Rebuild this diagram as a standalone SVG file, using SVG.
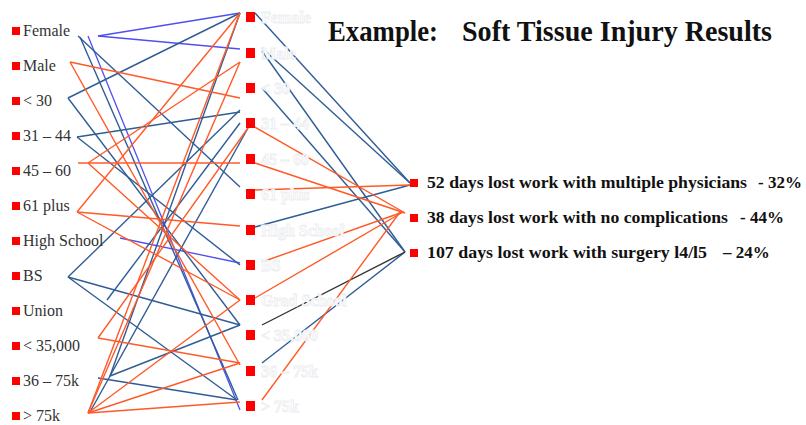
<svg xmlns="http://www.w3.org/2000/svg" width="806" height="425" viewBox="0 0 806 425">
<style>
.lbl{font-family:"Liberation Serif","Times New Roman",serif;font-size:16px;fill:#333}
.ml{font-family:"Liberation Serif","Times New Roman",serif;font-size:16px;font-weight:bold;fill:#fdfdfd;stroke:#eceef1;stroke-width:0.8}
.res{font-family:"Liberation Serif","Times New Roman",serif;font-size:17px;font-weight:bold;fill:#111}
.ttl{font-family:"Liberation Serif","Times New Roman",serif;font-size:30px;font-weight:bold;fill:#111}
.mk{fill:#ff0000}
.o{stroke:#ff5a28;stroke-width:1.4;fill:none}
.b{stroke:#2f5d96;stroke-width:1.4;fill:none}
.p{stroke:#5050f0;stroke-width:1.3;fill:none}
.k{stroke:#333;stroke-width:1.4;fill:none}
</style>
<rect width="806" height="425" fill="#fff"/>
<g id="title">
<text class="ttl" x="328" y="41" textLength="110" lengthAdjust="spacingAndGlyphs">Example:</text>
<text class="ttl" x="462" y="41" textLength="310" lengthAdjust="spacingAndGlyphs">Soft Tissue Injury Results</text>
</g>
<g id="connectors">
<line class="p" x1="98" y1="36" x2="240" y2="13"/>
<line class="p" x1="98" y1="36" x2="240" y2="49"/>
<line class="p" x1="88" y1="36" x2="240" y2="410"/>
<line class="p" x1="120" y1="238" x2="240" y2="263"/>
<line class="b" x1="78" y1="36" x2="240" y2="187"/>
<line class="b" x1="80" y1="37" x2="238" y2="400"/>
<line class="b" x1="68" y1="98" x2="240" y2="13"/>
<line class="b" x1="68" y1="98" x2="240" y2="325"/>
<line class="b" x1="77" y1="137" x2="240" y2="112"/>
<line class="b" x1="77" y1="137" x2="240" y2="265"/>
<line class="b" x1="68" y1="277" x2="240" y2="110"/>
<line class="b" x1="68" y1="277" x2="240" y2="325"/>
<line class="b" x1="68" y1="277" x2="237" y2="400"/>
<line class="b" x1="107" y1="300" x2="240" y2="123"/>
<line class="b" x1="110" y1="376" x2="240" y2="325"/>
<line class="b" x1="98" y1="378" x2="237" y2="400"/>
<line class="b" x1="110" y1="376" x2="240" y2="13"/>
<line class="b" x1="90" y1="412" x2="248" y2="128"/>
<line class="o" x1="70" y1="62" x2="240" y2="98"/>
<line class="o" x1="70" y1="62" x2="240" y2="365"/>
<line class="o" x1="78" y1="163" x2="240" y2="163"/>
<line class="o" x1="88" y1="163" x2="240" y2="62"/>
<line class="o" x1="88" y1="163" x2="240" y2="300"/>
<line class="o" x1="77" y1="212" x2="240" y2="13"/>
<line class="o" x1="77" y1="212" x2="240" y2="226"/>
<line class="o" x1="77" y1="212" x2="240" y2="300"/>
<line class="o" x1="98" y1="338" x2="240" y2="363"/>
<line class="o" x1="98" y1="338" x2="248" y2="128"/>
<line class="o" x1="88" y1="413" x2="240" y2="13"/>
<line class="o" x1="88" y1="413" x2="240" y2="62"/>
<line class="o" x1="88" y1="413" x2="240" y2="300"/>
<line class="o" x1="88" y1="413" x2="240" y2="363"/>
<line class="o" x1="88" y1="413" x2="240" y2="402"/>
<line class="b" x1="255" y1="13" x2="410" y2="183"/>
<line class="b" x1="262" y1="48" x2="410" y2="183"/>
<line class="b" x1="262" y1="51" x2="405" y2="252"/>
<line class="b" x1="262" y1="88" x2="405" y2="252"/>
<line class="b" x1="255" y1="227" x2="410" y2="185"/>
<line class="b" x1="262" y1="363" x2="405" y2="252"/>
<line class="k" x1="262" y1="325" x2="405" y2="252"/>
<line class="o" x1="253" y1="126" x2="405" y2="213"/>
<line class="o" x1="255" y1="163" x2="405" y2="213"/>
<line class="o" x1="255" y1="190" x2="410" y2="185"/>
<line class="o" x1="262" y1="262" x2="403" y2="212"/>
<line class="o" x1="255" y1="298" x2="403" y2="212"/>
<line class="o" x1="262" y1="400" x2="400" y2="212"/>
</g>
<g id="left-nodes">
<g id="l-female"><rect class="mk" x="12" y="27" width="8" height="8"/><text class="lbl" x="23" y="36">Female</text></g>
<g id="l-male"><rect class="mk" x="12" y="62" width="8" height="8"/><text class="lbl" x="23" y="71">Male</text></g>
<g id="l-u30"><rect class="mk" x="12" y="97" width="8" height="8"/><text class="lbl" x="23" y="106">&lt; 30</text></g>
<g id="l-31-44"><rect class="mk" x="12" y="132" width="8" height="8"/><text class="lbl" x="23" y="141">31 – 44</text></g>
<g id="l-45-60"><rect class="mk" x="12" y="167" width="8" height="8"/><text class="lbl" x="23" y="176">45 – 60</text></g>
<g id="l-61plus"><rect class="mk" x="12" y="202" width="8" height="8"/><text class="lbl" x="23" y="211">61 plus</text></g>
<g id="l-hs"><rect class="mk" x="12" y="237" width="8" height="8"/><text class="lbl" x="23" y="246">High School</text></g>
<g id="l-bs"><rect class="mk" x="12" y="272" width="8" height="8"/><text class="lbl" x="23" y="281">BS</text></g>
<g id="l-union"><rect class="mk" x="12" y="307" width="8" height="8"/><text class="lbl" x="23" y="316">Union</text></g>
<g id="l-35k"><rect class="mk" x="12" y="342" width="8" height="8"/><text class="lbl" x="23" y="351">&lt; 35,000</text></g>
<g id="l-36-75k"><rect class="mk" x="12" y="377" width="8" height="8"/><text class="lbl" x="23" y="386">36 – 75k</text></g>
<g id="l-75k"><rect class="mk" x="12" y="412" width="8" height="8"/><text class="lbl" x="23" y="421">&gt; 75k</text></g>
</g>
<g id="middle-nodes">
<g id="m-female"><rect class="mk" x="246" y="12" width="9" height="10"/><text class="ml" x="261" y="23">Female</text></g>
<g id="m-male"><rect class="mk" x="246" y="48" width="9" height="10"/><text class="ml" x="261" y="59">Male</text></g>
<g id="m-u30"><rect class="mk" x="246" y="83" width="9" height="10"/><text class="ml" x="261" y="94">&lt; 30</text></g>
<g id="m-31-44"><rect class="mk" x="246" y="118" width="9" height="10"/><text class="ml" x="261" y="129">31 – 44</text></g>
<g id="m-45-60"><rect class="mk" x="246" y="154" width="9" height="10"/><text class="ml" x="261" y="165">45 – 60</text></g>
<g id="m-61plus"><rect class="mk" x="246" y="189" width="9" height="10"/><text class="ml" x="261" y="200">61 plus</text></g>
<g id="m-hs"><rect class="mk" x="246" y="225" width="9" height="10"/><text class="ml" x="261" y="236">High School</text></g>
<g id="m-bs"><rect class="mk" x="246" y="260" width="9" height="10"/><text class="ml" x="261" y="271">BS</text></g>
<g id="m-grad"><rect class="mk" x="246" y="295" width="9" height="10"/><text class="ml" x="261" y="306">Grad School</text></g>
<g id="m-35k"><rect class="mk" x="246" y="330" width="9" height="10"/><text class="ml" x="261" y="341">&lt; 35,000</text></g>
<g id="m-36-75k"><rect class="mk" x="246" y="366" width="9" height="10"/><text class="ml" x="261" y="377">36 – 75k</text></g>
<g id="m-75k"><rect class="mk" x="246" y="401" width="9" height="10"/><text class="ml" x="261" y="412">&gt; 75k</text></g>
</g>
<g id="right-nodes">
<g id="r-52"><rect class="mk" x="410" y="179" width="8" height="8"/><text class="res" x="427" y="188" textLength="320" lengthAdjust="spacingAndGlyphs">52 days lost work with multiple physicians</text><text class="res" x="758" y="188">- 32%</text></g>
<g id="r-38"><rect class="mk" x="410" y="214" width="8" height="8"/><text class="res" x="427" y="223" textLength="301" lengthAdjust="spacingAndGlyphs">38 days lost work with no complications</text><text class="res" x="740" y="223">- 44%</text></g>
<g id="r-107"><rect class="mk" x="410" y="249" width="8" height="8"/><text class="res" x="427" y="258" textLength="280" lengthAdjust="spacingAndGlyphs">107 days lost work with surgery l4/l5</text><text class="res" x="723" y="258">– 24%</text></g>
</g>
</svg>
